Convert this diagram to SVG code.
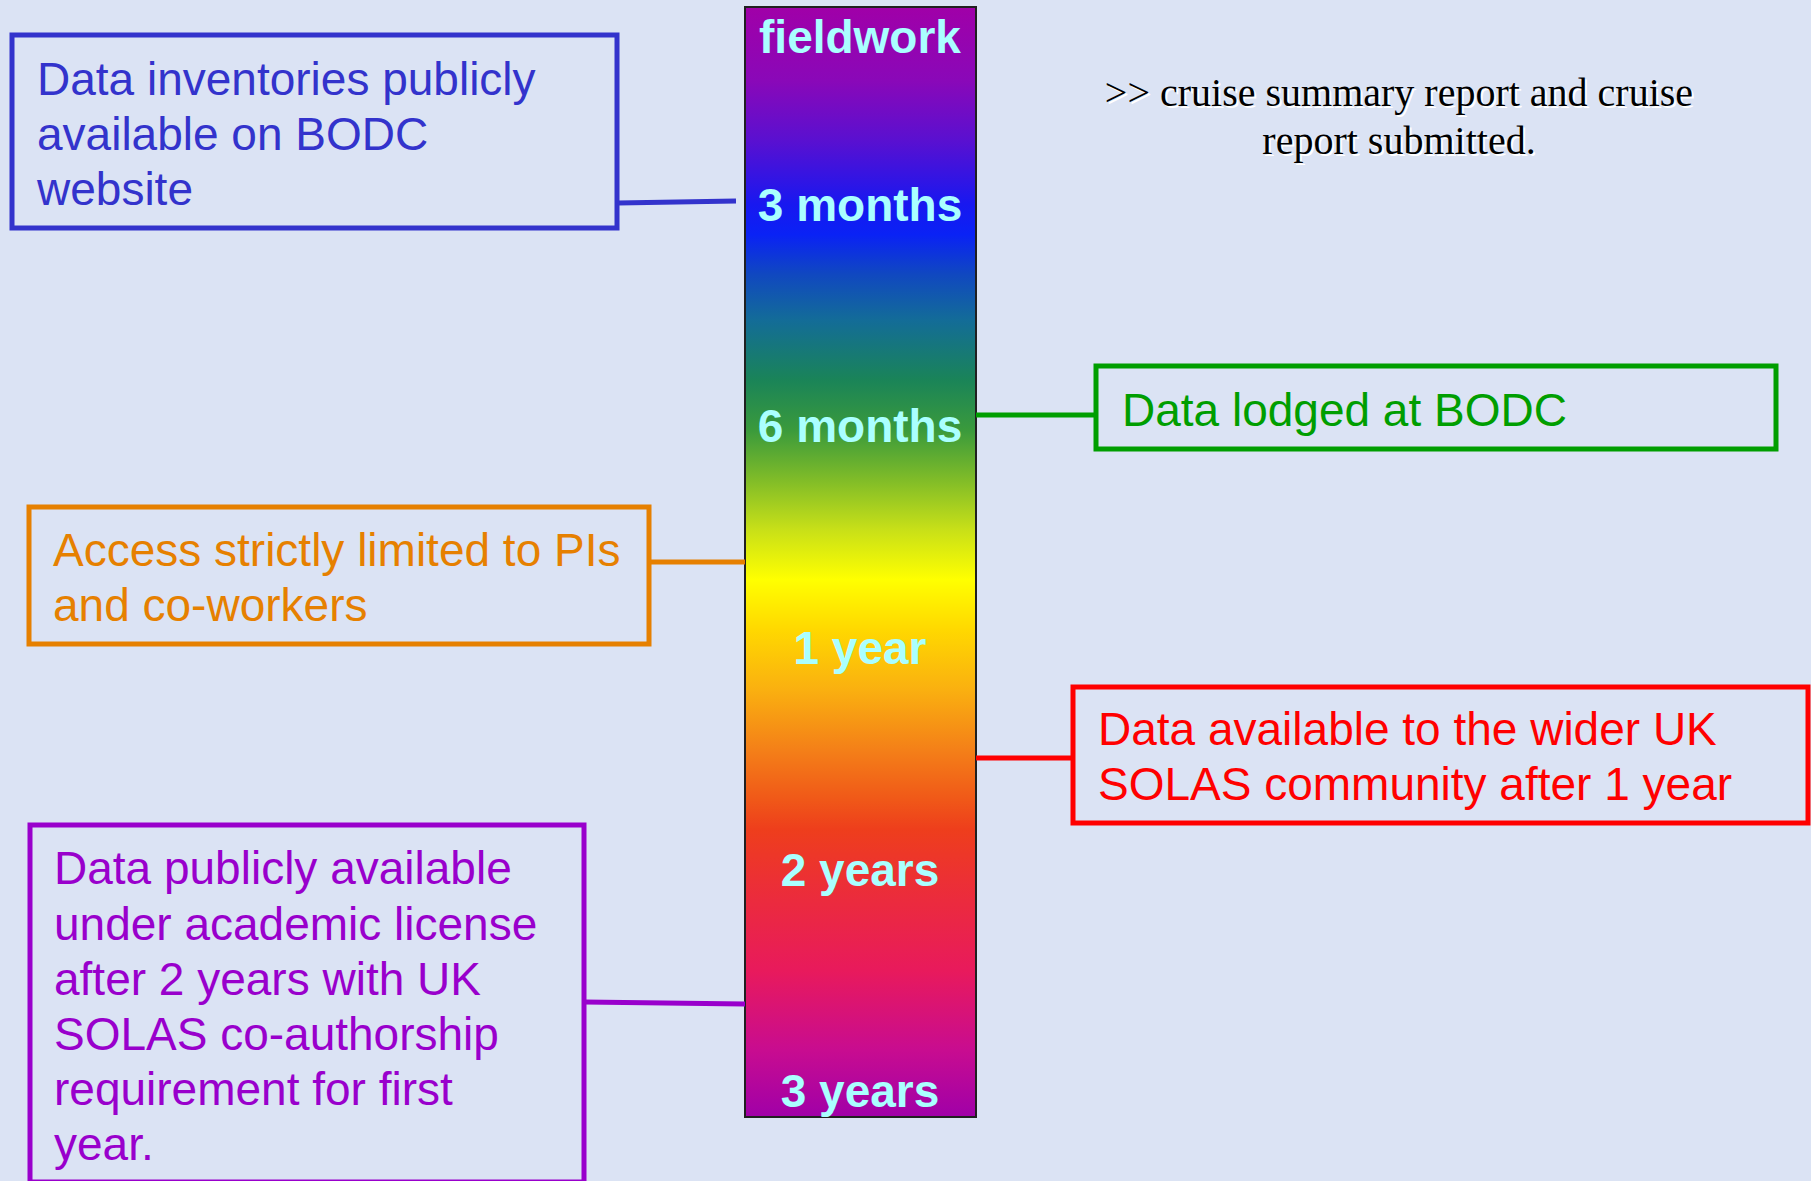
<svg xmlns="http://www.w3.org/2000/svg" width="1811" height="1181" viewBox="0 0 1811 1181">
<defs>
<linearGradient id="rainbow" x1="0" y1="0" x2="0" y2="1">
<stop offset="0" stop-color="#a000a8"/>
<stop offset="0.066" stop-color="#8a08b8"/>
<stop offset="0.12" stop-color="#5a10d0"/>
<stop offset="0.178" stop-color="#1818f0"/>
<stop offset="0.205" stop-color="#0a22f5"/>
<stop offset="0.241" stop-color="#1048c0"/>
<stop offset="0.282" stop-color="#136c98"/>
<stop offset="0.336" stop-color="#1a8458"/>
<stop offset="0.381" stop-color="#3a9a3c"/>
<stop offset="0.426" stop-color="#80bc28"/>
<stop offset="0.471" stop-color="#c8e018"/>
<stop offset="0.516" stop-color="#ffff00"/>
<stop offset="0.561" stop-color="#ffd800"/>
<stop offset="0.615" stop-color="#fab010"/>
<stop offset="0.669" stop-color="#f48018"/>
<stop offset="0.714" stop-color="#f05818"/>
<stop offset="0.741" stop-color="#ee3e1c"/>
<stop offset="0.786" stop-color="#ec3034"/>
<stop offset="0.868" stop-color="#e81a5c"/>
<stop offset="0.94" stop-color="#c80c90"/>
<stop offset="1" stop-color="#a000a8"/>
</linearGradient>
</defs>
<style>
.box { fill: none; stroke-width: 5; }
.txt { font-family: "Liberation Sans", Arial, sans-serif; font-size: 46px; }
.bar { font-family: "Liberation Sans", Arial, sans-serif; font-size: 46px; font-weight: bold; fill: #aaffff; text-anchor: middle; }
.note { font-family: "Liberation Serif", "Times New Roman", serif; font-size: 40px; text-anchor: middle; }
.conn { fill: none; stroke-width: 5; }
</style>
<rect width="1811" height="1181" fill="#dbe3f4"/>

<g id="timeline">
<rect x="745" y="7" width="231" height="1110" fill="url(#rainbow)" stroke="#202020" stroke-width="2"/>
<text class="bar" x="860" y="53">fieldwork</text>
<text class="bar" x="860" y="221">3 months</text>
<text class="bar" x="860" y="442">6 months</text>
<text class="bar" x="860" y="664">1 year</text>
<text class="bar" x="860" y="886">2 years</text>
<text class="bar" x="860" y="1107">3 years</text>
</g>

<g id="connectors">
<line class="conn" x1="618" y1="203" x2="736" y2="201" stroke="#3333cc"/>
<line class="conn" x1="976" y1="415" x2="1095" y2="415" stroke="#009e00"/>
<line class="conn" x1="650" y1="562" x2="745" y2="562" stroke="#e68000"/>
<line class="conn" x1="976" y1="758" x2="1072" y2="758" stroke="#ff0000"/>
<line class="conn" x1="584" y1="1002" x2="745" y2="1004" stroke="#9900cc"/>
</g>

<g id="note">
<text class="note" x="1401" y="108" fill="#ffffff">&gt;&gt; cruise summary report and cruise</text>
<text class="note" x="1401" y="156" fill="#ffffff">report submitted.</text>
<text class="note" x="1399" y="106" fill="#000000">&gt;&gt; cruise summary report and cruise</text>
<text class="note" x="1399" y="154" fill="#000000">report submitted.</text>
</g>

<g id="inventories">
<rect class="box" x="12" y="35" width="605" height="193" stroke="#3333cc"/>
<text class="txt" fill="#3333cc" x="37" y="95">Data inventories publicly</text>
<text class="txt" fill="#3333cc" x="37" y="150">available on BODC</text>
<text class="txt" fill="#3333cc" x="37" y="205">website</text>
</g>

<g id="lodged">
<rect class="box" x="1096" y="366" width="680" height="83" stroke="#009e00"/>
<text class="txt" fill="#009e00" x="1122" y="426">Data lodged at BODC</text>
</g>

<g id="access">
<rect class="box" x="29" y="507" width="620" height="137" stroke="#e68000"/>
<text class="txt" fill="#e68000" x="53" y="566">Access strictly limited to PIs</text>
<text class="txt" fill="#e68000" x="53" y="621">and co-workers</text>
</g>

<g id="wider">
<rect class="box" x="1073" y="687" width="735" height="136" stroke="#ff0000"/>
<text class="txt" fill="#ff0000" x="1098" y="745">Data available to the wider UK</text>
<text class="txt" fill="#ff0000" x="1098" y="800">SOLAS community after 1 year</text>
</g>

<g id="public">
<rect class="box" x="30" y="825" width="554" height="357" stroke="#9900cc"/>
<text class="txt" fill="#9900cc" x="54" y="884">Data publicly available</text>
<text class="txt" fill="#9900cc" x="54" y="940">under academic license</text>
<text class="txt" fill="#9900cc" x="54" y="995">after 2 years with UK</text>
<text class="txt" fill="#9900cc" x="54" y="1050">SOLAS co-authorship</text>
<text class="txt" fill="#9900cc" x="54" y="1105">requirement for first</text>
<text class="txt" fill="#9900cc" x="54" y="1160">year.</text>
</g>
</svg>
